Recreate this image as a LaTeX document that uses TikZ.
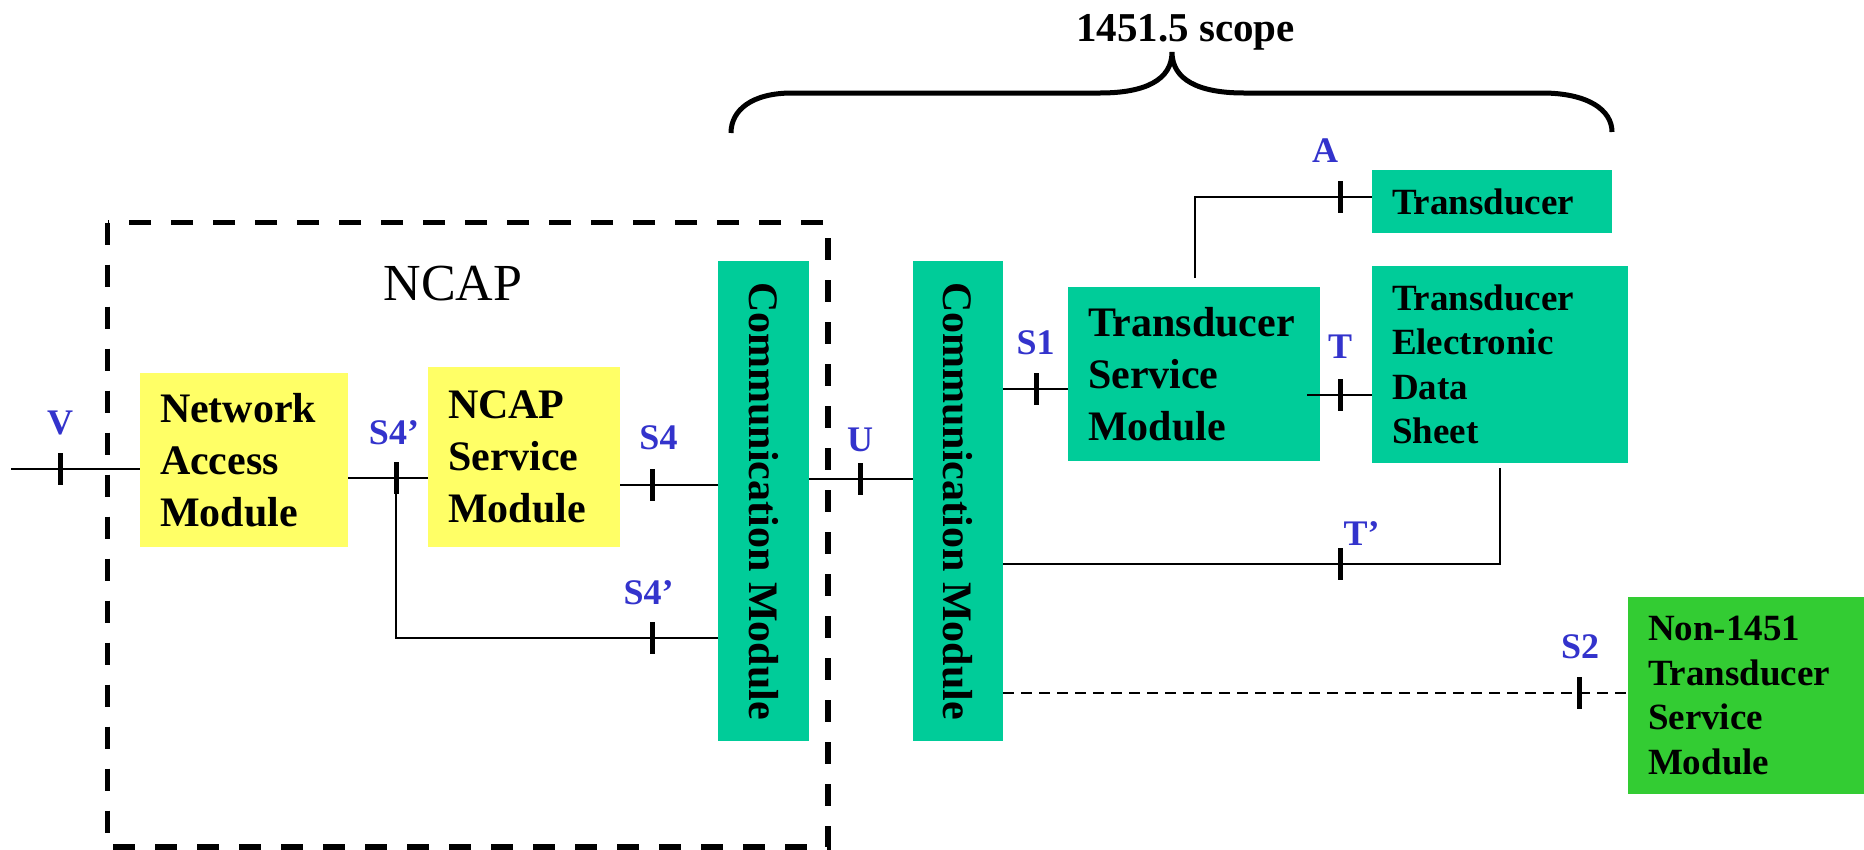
\documentclass[tikz,border=0pt]{standalone}
\usepackage{fontspec}
\usepackage{graphicx}
\setmainfont{Liberation Serif}
\hyphenpenalty=10000
\exhyphenpenalty=10000
\definecolor{tealbox}{RGB}{0,204,153}
\definecolor{yelbox}{RGB}{255,255,102}
\definecolor{grnbox}{RGB}{51,204,51}
\definecolor{lblblue}{RGB}{51,51,204}
\begin{document}
\begin{tikzpicture}[x=1pt,y=-1pt,
  box/.style={draw=none, inner xsep=20pt, inner ysep=0pt, outer sep=0pt, align=left, anchor=north west, font=\bfseries\fontsize{42}{52}\selectfont},
  sbox/.style={box, font=\bfseries\fontsize{37}{44.5}\selectfont},
  commbox/.style={fill=tealbox, inner sep=0pt, outer sep=0pt, minimum height=480pt, font=\bfseries\fontsize{42}{52}\selectfont},
  conn/.style={line width=2.3pt},
  tickmark/.style={line width=5pt},
  lbl/.style={text=lblblue, font=\bfseries\fontsize{36}{40}\selectfont, inner sep=0pt},
]
\useasboundingbox[fill=white] (0,0) rectangle (1864,849);

% NCAP dashed frame
\draw[line width=5.5pt, dash pattern=on 22pt off 20pt] (107.5,222.7) rectangle (828,847);
\node[font=\fontsize{52}{60}\selectfont, anchor=base, inner sep=0pt] (ncaplbl) at (453,300.7) {NCAP};

% scope brace
\draw[line width=5pt] (731,133) .. controls (731,110) and (752,93) .. (792,93) -- (1100,93)
  .. controls (1145,93) and (1172,80) .. (1172,52)
  .. controls (1172,80) and (1199,93) .. (1244,93) -- (1542,93)
  .. controls (1588,93) and (1612,110) .. (1612,132);
\node[font=\bfseries\fontsize{41}{45}\selectfont, anchor=base, inner sep=0pt] (scope) at (1185.5,41) {1451.5 scope};

% boxes
\node[box, fill=yelbox, text width=168pt, minimum height=174pt] (nam) at (140,373) {Network\\Access\\Module};
\node[box, fill=yelbox, text width=152pt, minimum height=180pt] (nsm) at (428,367) {NCAP\\Service\\Module};
\node[commbox, minimum width=91pt] (cm1) at (763.5,501) {\rotatebox{-90}{Communication Module}};
\node[commbox, minimum width=90pt] (cm2) at (958,501) {\rotatebox{-90}{Communication Module}};
\node[box, fill=tealbox, text width=212pt, minimum height=174pt] (tsm) at (1068,287) {Transducer\\Service\\Module};
\node[sbox, fill=tealbox, text width=200pt, minimum height=63pt] (trans) at (1372,170) {Transducer};
\node[sbox, fill=tealbox, text width=216pt, minimum height=197pt] (teds) at (1372,266) {Transducer\\Electronic\\Data\\Sheet};
\node[sbox, fill=grnbox, text width=196pt, minimum height=197pt] (non) at (1628,597) {Non-1451\\Transducer\\Service\\Module};

% coordinates
\coordinate (v0) at (11,469);
\coordinate (vt) at (60,469);
\coordinate (s4a) at (396,478);
\coordinate (s4b) at (396,638);
\coordinate (s4bt) at (652,638);
\coordinate (s4t) at (652,485);
\coordinate (ut) at (860,479);
\coordinate (s1t) at (1036,389);
\coordinate (tt) at (1340,395);
\coordinate (a0) at (1195,278);
\coordinate (a1) at (1195,197);
\coordinate (at) at (1340,197);
\coordinate (tp0) at (1500,468);
\coordinate (tp1) at (1500,564);
\coordinate (tpt) at (1340,564);
\coordinate (s2t) at (1579,693);

% connectors
\draw[conn] (v0) -- (v0 -| nam.west);
\draw[conn] (nam.east |- s4a) -- (nsm.west |- s4a);
\draw[conn] (s4a) -- (s4b) -- (s4b -| cm1.west);
\draw[conn] (nsm.east |- s4t) -- (cm1.west |- s4t);
\draw[conn] (cm1.east |- ut) -- (cm2.west |- ut);
\draw[conn] (cm2.east |- s1t) -- (tsm.west |- s1t);
\draw[conn] ([xshift=-13pt]tsm.east |- tt) -- (teds.west |- tt);
\draw[conn] (a0) -- (a1) -- (a1 -| trans.west);
\draw[conn] (tp0) -- (tp1) -- (tp1 -| cm2.east);
\draw[conn, dash pattern=on 11pt off 7pt] (cm2.east |- s2t) -- (non.west |- s2t);

% ticks
\foreach \c in {vt,s4a,s4bt,s4t,ut,s1t,tt,at,tpt,s2t}
  \draw[tickmark] (\c) ++(0,-16) -- ++(0,32);

% labels
\node[lbl] (lv) at (60,423) {V};
\node[lbl] (ls4a) at (394,432.5) {S4’};
\node[lbl] (ls4) at (658.5,437.5) {S4};
\node[lbl] (ls4b) at (648.5,592.5) {S4’};
\node[lbl] (lu) at (860,439.5) {U};
\node[lbl] (ls1) at (1035.5,342.5) {S1};
\node[lbl] (lt) at (1340,347) {T};
\node[lbl] (la) at (1325,150.5) {A};
\node[lbl] (ltp) at (1361.5,534) {T’};
\node[lbl] (ls2) at (1580,646.5) {S2};
\end{tikzpicture}
\end{document}
